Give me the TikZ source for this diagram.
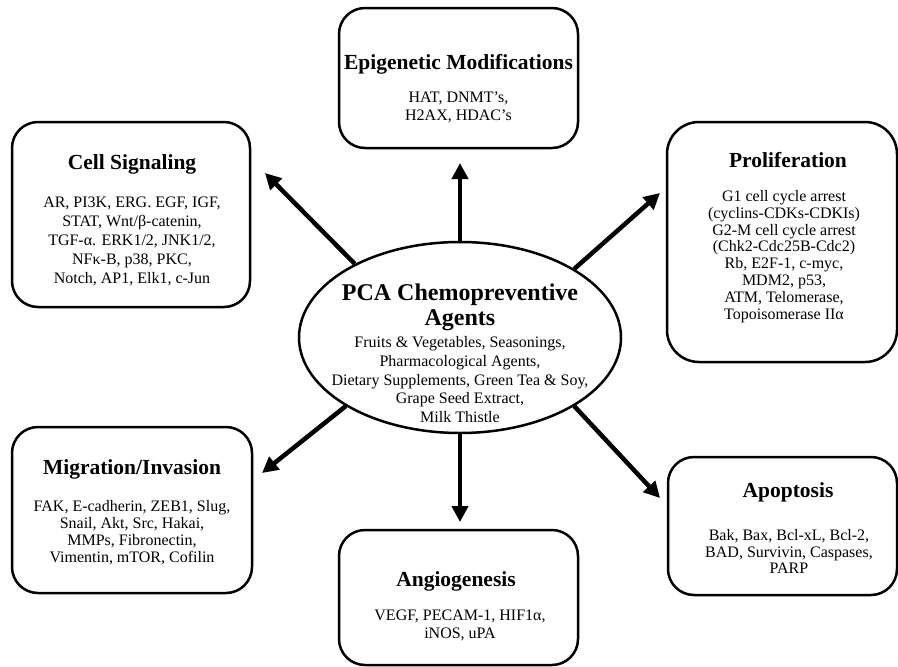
\documentclass[tikz,border=0pt]{standalone}
\usepackage{fontspec}
\setmainfont{Liberation Serif}
\usetikzlibrary{shapes.geometric,arrows.meta}
\newcommand\blines[2]{\fontsize{16}{#1}\selectfont\begin{tabular}[t]{@{}c@{}}#2\end{tabular}}
\newcommand\tlines[2]{\fontsize{24}{#1}\selectfont\bfseries\begin{tabular}[t]{@{}c@{}}#2\end{tabular}}
\begin{document}
\begin{tikzpicture}[x=1pt,y=-1pt,
  box/.style={draw, line width=2.5pt, rounded corners=26pt, inner sep=0pt},
  ttl/.style={font=\fontsize{21.5}{24}\selectfont\bfseries, anchor=base, inner sep=0pt},
  txt/.style={anchor=base, inner sep=0pt},
  bigarrow/.style={line width=4.5pt, -{Triangle[length=16pt,width=16pt]}}]
\useasboundingbox (0,0) rectangle (898,667);

% boxes
\node[box, minimum width=239pt, minimum height=140pt] (epi) at (458.5,78) {};
\node[box, minimum width=238pt, minimum height=185pt] (cell) at (131,214.5) {};
\node[box, minimum width=230pt, minimum height=240pt, rounded corners=32pt] (prol) at (782,242) {};
\node[box, minimum width=240pt, minimum height=166pt] (migr) at (132,510) {};
\node[box, minimum width=239pt, minimum height=135pt] (angi) at (458.5,597.5) {};
\node[box, minimum width=229pt, minimum height=138pt] (apop) at (782.5,526) {};

% central ellipse
\node[ellipse, draw, line width=2.5pt, minimum width=322pt, minimum height=191pt, inner sep=0pt] (pca) at (460,337.5) {};

% titles
\node[ttl] (epiT) at (458.5,69) {Epigenetic Modifications};
\node[ttl] (cellT) at (132,169) {Cell Signaling};
\node[ttl] (prolT) at (788,167) {Proliferation};
\node[ttl] (migrT) at (132,474) {Migration/Invasion};
\node[ttl] (angiT) at (456,586) {Angiogenesis};
\node[ttl] (apopT) at (788,497) {Apoptosis};

% bodies
\node[txt] (epiB) at (458.5,102.5) {\blines{18}{HAT, DNMT’s,\\H2AX, HDAC’s}};
\node[txt] (cellB) at (132,207.5) {\blines{19}{AR, PI3K, ERG. EGF, IGF,\\STAT, Wnt/β-catenin,\\TGF-α. ERK1/2, JNK1/2,\\NFκ-B, p38, PKC,\\Notch, AP1, Elk1, c-Jun}};
\node[txt] (prolB) at (784,201.5) {\blines{16.8}{G1 cell cycle arrest\\(cyclins-CDKs-CDKIs)\\G2-M cell cycle arrest\\(Chk2-Cdc25B-Cdc2)\\Rb, E2F-1, c-myc,\\MDM2, p53,\\ATM, Telomerase,\\Topoisomerase IIα}};
\node[txt] (migrB) at (132,511.5) {\blines{17}{FAK, E-cadherin, ZEB1, Slug,\\Snail, Akt, Src, Hakai,\\MMPs, Fibronectin,\\Vimentin, mTOR, Cofilin}};
\node[txt] (angiB) at (460,620.5) {\blines{18}{VEGF, PECAM-1, HIF1α,\\iNOS, uPA}};
\node[txt] (apopB) at (789,540.5) {\blines{16.7}{Bak, Bax, Bcl-xL, Bcl-2,\\BAD, Survivin, Caspases,\\PARP}};

% ellipse text
\node[txt] (pcaT) at (460,300) {\tlines{25}{PCA Chemopreventive\\Agents}};
\node[txt] (pcaB) at (460,347.5) {\blines{18.75}{Fruits \& Vegetables, Seasonings,\\Pharmacological Agents,\\Dietary Supplements, Green Tea \& Soy,\\Grape Seed Extract,\\Milk Thistle}};

% arrow tips
\coordinate (tUP) at (460,163);
\coordinate (tUL) at (265,173);
\coordinate (tUR) at (660,193);
\coordinate (tLL) at (262,473);
\coordinate (tDN) at (460,522);
\coordinate (tLR) at (660,498);

\draw[bigarrow] (pca.90) -- (tUP);
\draw[bigarrow] (pca.145.4) -- (tUL);
\draw[bigarrow] (pca.31.2) -- (tUR);
\draw[bigarrow] (pca.211.2) -- (tLL);
\draw[bigarrow] (pca.270) -- (tDN);
\draw[bigarrow] (pca.329.2) -- (tLR);
\end{tikzpicture}
\end{document}
